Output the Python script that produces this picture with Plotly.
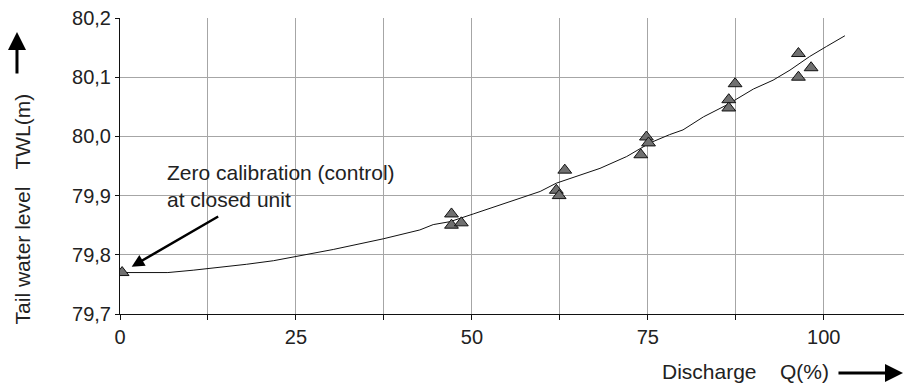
import plotly.graph_objects as go

# Measured tail water levels
meas_q = [0.3, 47.1, 47.1, 48.5, 62.0, 62.4, 63.2, 74.0, 74.8, 75.1,
          86.5, 86.5, 87.4, 96.4, 96.4, 98.2]
meas_twl = [79.770, 79.869, 79.850, 79.854, 79.909, 79.900, 79.943, 79.969,
            79.999, 79.989, 80.062, 80.048, 80.089, 80.140, 80.100, 80.116]

# Fitted tail water curve
curve_q = [0.2, 6.8, 10.4, 13.7, 18.0, 21.8, 25.0, 30.3, 37.4, 42.6, 44.5,
           46.9, 50.2, 56.8, 59.7, 62.0, 66.3, 68.2, 72.0, 75.3, 78.1, 80.0,
           82.9, 86.2, 90.0, 92.8, 95.2, 98.0, 100.4, 103.0]
curve_twl = [79.770, 79.770, 79.774, 79.778, 79.784, 79.790, 79.797, 79.809,
             79.827, 79.842, 79.851, 79.856, 79.869, 79.896, 79.907, 79.921,
             79.939, 79.946, 79.966, 79.989, 80.003, 80.011, 80.033, 80.053,
             80.080, 80.095, 80.112, 80.135, 80.152, 80.170]

x_ticks = [0, 12.5, 25, 37.5, 50, 62.5, 75, 87.5, 100]
x_labels = ["0", "", "25", "", "50", "", "75", "", "100"]
y_ticks = [79.7, 79.8, 79.9, 80.0, 80.1, 80.2]
y_labels = ["79,7", "79,8", "79,9", "80,0", "80,1", "80,2"]

FONT = "Arial, 'Liberation Sans', sans-serif"
TXT = "#222222"
GRID = "#a6a6a6"

fig = go.Figure()
fig.add_trace(go.Scatter(x=curve_q, y=curve_twl, mode="lines",
                         line=dict(color="#111111", width=1),
                         showlegend=False, hoverinfo="skip"))
fig.add_trace(go.Scatter(x=meas_q, y=meas_twl, mode="markers",
                         marker=dict(symbol="triangle-up", size=12,
                                     color="#707070",
                                     line=dict(color="#111111", width=1)),
                         showlegend=False))

fig.update_xaxes(range=[0, 111.4], tickvals=x_ticks, ticktext=x_labels,
                 showgrid=True, gridcolor=GRID, gridwidth=1,
                 showline=True, linecolor="#111111", linewidth=1,
                 ticks="outside", ticklen=5, tickcolor="#111111",
                 zeroline=False,
                 tickfont=dict(family=FONT, size=20, color=TXT))
fig.update_yaxes(range=[79.7, 80.2], tickvals=y_ticks, ticktext=y_labels,
                 showgrid=True, gridcolor=GRID, gridwidth=1,
                 showline=True, linecolor="#111111", linewidth=1,
                 ticks="outside", ticklen=4, tickcolor="#111111",
                 zeroline=False,
                 tickfont=dict(family=FONT, size=20, color=TXT))

annotations = [
    # y-axis title and arrow
    dict(text="Tail water level   TWL(m)", xref="paper", yref="paper",
         x=-0.1244, y=0.355, xanchor="center", yanchor="middle",
         textangle=-90, showarrow=False,
         font=dict(family=FONT, size=21, color=TXT)),
    dict(text="", xref="paper", yref="paper", x=-0.1314, y=0.9527,
         ax=0, ay=43, showarrow=True, arrowhead=2, arrowsize=1.2,
         arrowwidth=3, arrowcolor="#000000", standoff=0),
    # x-axis title and arrow
    dict(text="Discharge    Q(%)", xref="paper", yref="paper",
         x=0.798, y=-0.1926, xanchor="center", yanchor="middle",
         showarrow=False, font=dict(family=FONT, size=21, color=TXT)),
    dict(text="", xref="paper", yref="paper", x=0.9987, y=-0.1993,
         ax=-66, ay=0, showarrow=True, arrowhead=2, arrowsize=1.2,
         arrowwidth=3, arrowcolor="#000000", standoff=0),
    # callout
    dict(text="Zero calibration (control)<br>at closed unit", x=6.4,
         y=79.917, xanchor="left", yanchor="middle", align="left",
         showarrow=False, font=dict(family=FONT, size=21, color=TXT)),
    dict(text="", x=1.66, y=79.780, ax=88, ay=-51, showarrow=True,
         arrowhead=2, arrowsize=1, arrowwidth=2.5, arrowcolor="#000000",
         standoff=0),
]

fig.update_layout(width=904, height=383,
                  margin=dict(l=120, r=0, t=18, b=69),
                  plot_bgcolor="white", paper_bgcolor="white",
                  annotations=annotations)

fig.write_html("out.html")
